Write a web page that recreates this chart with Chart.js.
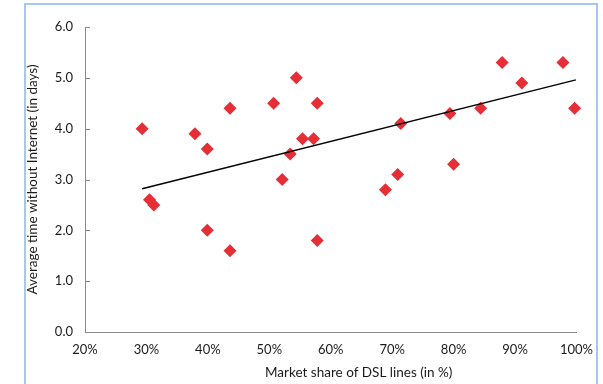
<!DOCTYPE html>
<html>
<head>
<meta charset="utf-8">
<script src="https://cdn.jsdelivr.net/npm/chart.js"></script>
<style>
  html, body { margin: 0; padding: 0; background: #fff; overflow: hidden; }
  #frame { position: absolute; left: 24px; top: 3px; width: 570px; height: 420px; border: 2px solid #a9c6ee; }
  #wrap { position: absolute; left: 0; top: 0; width: 603px; height: 384px; }
</style>
</head>
<body>
<div id="frame"></div>
<div id="wrap"><canvas id="chart"></canvas></div>
<script>
// market share of DSL lines (%) and average days without internet
const dslShare = [29.3, 30.5, 31.2, 37.9, 39.9, 39.9, 43.6, 43.6, 50.7, 52.1, 53.4, 54.4, 55.4, 57.2, 57.8, 57.8, 68.9, 70.9, 71.4, 79.4, 80.0, 84.4, 87.9, 91.1, 97.8, 99.7];
const daysOffline = [4.0, 2.6, 2.5, 3.9, 3.6, 2.0, 4.4, 1.6, 4.5, 3.0, 3.5, 5.0, 3.8, 3.8, 4.5, 1.8, 2.8, 3.1, 4.1, 4.3, 3.3, 4.4, 5.3, 4.9, 5.3, 4.4];

// trend line end points
const trendX = [29.3, 99.9];
const trendY = [2.82, 4.96];

const xTitle = 'Market share of DSL lines (in %)';
const yTitle = 'Average time without Internet (in days)';

const axisGrey = '#8a8a8a';
const textCol = '#1a1a1a';
const font = 'Lato';

// y axis ticks point into the plot; x title sits a bit right of centre
const axisExtras = {
  id: 'axisExtras',
  afterDraw(chart) {
    const y = chart.scales.y;
    const x = chart.scales.x;
    const ctx = chart.ctx;
    ctx.save();
    ctx.strokeStyle = axisGrey;
    ctx.lineWidth = 1;
    y.ticks.forEach((t) => {
      const py = Math.round(y.getPixelForValue(t.value)) + 0.5;
      ctx.beginPath();
      ctx.moveTo(y.right, py);
      ctx.lineTo(y.right + 5, py);
      ctx.stroke();
    });
    ctx.fillStyle = textCol;
    ctx.font = '13.5px ' + font;
    ctx.textAlign = 'center';
    ctx.textBaseline = 'middle';
    ctx.fillText(xTitle, (x.left + x.right) / 2 + 28, x.bottom - 11);
    ctx.restore();
  },
};

new Chart(document.getElementById('chart'), {
  type: 'scatter',
  data: {
    datasets: [
      {
        type: 'line',
        data: trendX.map((x, i) => ({ x, y: trendY[i] })),
        borderColor: '#000',
        borderWidth: 1.5,
        pointRadius: 0,
        fill: false,
      },
      {
        data: dslShare.map((x, i) => ({ x, y: daysOffline[i] })),
        pointStyle: 'rectRot',
        pointRadius: 6.5,
        backgroundColor: '#e62e36',
        borderColor: '#e62e36',
        borderWidth: 0,
        clip: false,
      },
    ],
  },
  plugins: [axisExtras],
  options: {
    responsive: true,
    maintainAspectRatio: false,
    animation: false,
    layout: { padding: { left: 0, top: 27, right: 26, bottom: 0 } },
    plugins: { legend: { display: false }, tooltip: { enabled: false } },
    scales: {
      x: {
        type: 'linear',
        min: 20,
        max: 100,
        afterFit: (s) => { s.height = 52; },
        ticks: { stepSize: 10, padding: 10, color: textCol, font: { family: font, size: 13 }, callback: (v) => v + '%' },
        grid: { display: false, drawTicks: false },
        border: { display: true, color: axisGrey, width: 1 },
        title: { display: false, text: xTitle },
      },
      y: {
        min: 0,
        max: 6,
        afterFit: (s) => { s.width = 85; },
        ticks: { stepSize: 1, padding: 12, color: textCol, font: { family: font, size: 13 }, callback: (v) => v.toFixed(1) },
        grid: { display: false, drawTicks: false },
        border: { display: true, color: axisGrey, width: 1 },
        title: { display: true, text: yTitle, color: textCol, font: { family: font, size: 13.5 }, padding: { top: 25, bottom: 0 } },
      },
    },
  },
});
</script>
</body>
</html>
